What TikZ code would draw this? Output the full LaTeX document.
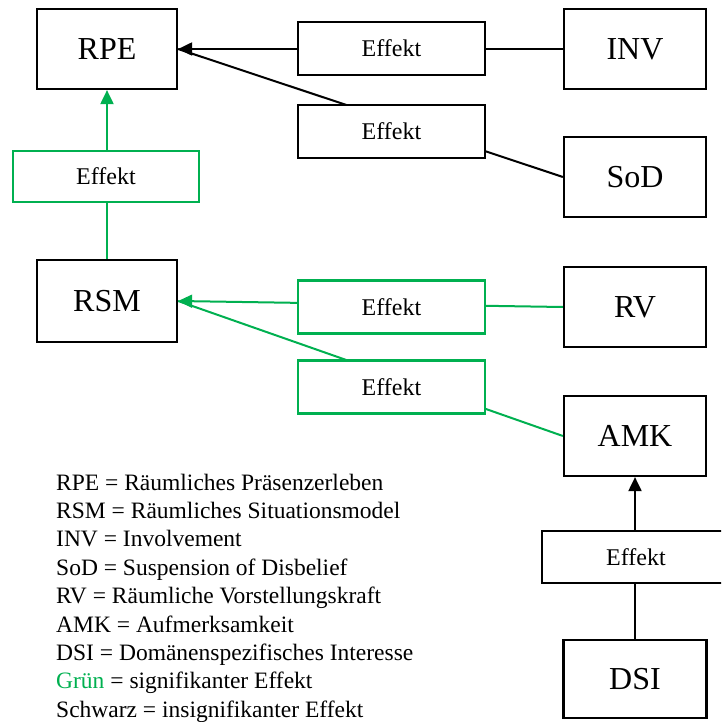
\documentclass[tikz,border=0pt]{standalone}
\usepackage{fontspec}
\setmainfont{Liberation Serif}
\usetikzlibrary{arrows.meta}
\definecolor{sig}{RGB}{0,176,80}
\begin{document}
\begin{tikzpicture}[x=1pt,y=-1pt,
  var/.style={draw, line width=2.2pt, minimum width=140pt, minimum height=80pt,
    inner sep=0pt, font=\fontsize{32}{38}\selectfont},
  eff/.style={draw, fill=white, line width=2.2pt, minimum width=187pt,
    minimum height=53pt, inner sep=0pt, font=\fontsize{24}{28}\selectfont},
  sigbox/.style={eff, draw=sig},
  link/.style={line width=2pt},
  arr/.style={link, -{Triangle[length=14pt,width=13pt]}},
  legend/.style={inner sep=0pt, font=\fontsize{23.5}{28}\selectfont}]
\useasboundingbox (0,0) rectangle (721,722);
\clip (0,0) rectangle (721,722);

% construct boxes
\node[var] (RPE) at (107,49) {RPE};
\node[var, minimum width=142pt] (INV) at (635,49) {INV};
\node[var, minimum width=142pt] (SoD) at (635,177) {SoD};
\node[var, minimum height=82pt] (RSM) at (107,301) {RSM};
\node[var, minimum width=142pt] (RV) at (635,307) {RV};
\node[var, minimum width=142pt] (AMK) at (635,436) {AMK};
\node[var, minimum width=143pt, minimum height=78pt] (DSI) at (635,679) {DSI};

% paths (effect boxes are drawn on top of them)
\draw[arr] (INV.west) -- (RPE.east);
\draw[link] (SoD.west) -- (RPE.east);
\draw[arr, sig] (RSM.north) -- (RPE.south);
\draw[arr, sig] (RV.west) -- (RSM.east);
\draw[link, sig] (AMK.west) -- (RSM.east);
\draw[arr] (DSI.north) -- (AMK.south);

% effect labels
\node[eff] (E1) at (391.5,48.5) {Effekt};
\node[eff] (E2) at (391.5,131.5) {Effekt};
\node[sigbox, minimum width=186pt, minimum height=51pt] (G1) at (106,176.5) {Effekt};
\node[sigbox] (G2) at (391.5,307) {Effekt};
\node[sigbox] (G3) at (391.5,387) {Effekt};
\node[eff, minimum width=188pt, minimum height=52pt] (E5) at (636,557) {Effekt};

% abbreviations
\foreach \i/\t in {
  1/{RPE = Räumliches Präsenzerleben},
  2/{RSM = Räumliches Situationsmodel},
  3/{INV = Involvement},
  4/{SoD = Suspension of Disbelief},
  5/{RV = Räumliche Vorstellungskraft},
  6/{AMK = Aufmerksamkeit},
  7/{DSI = Domänenspezifisches Interesse},
  8/{\textcolor{sig}{Grün} = signifikanter Effekt},
  9/{Schwarz = insignifikanter Effekt}}
  \node[legend, anchor=base west] (leg\i) at (56,{490+(\i-1)*28.4}) {\t};
\end{tikzpicture}
\end{document}
